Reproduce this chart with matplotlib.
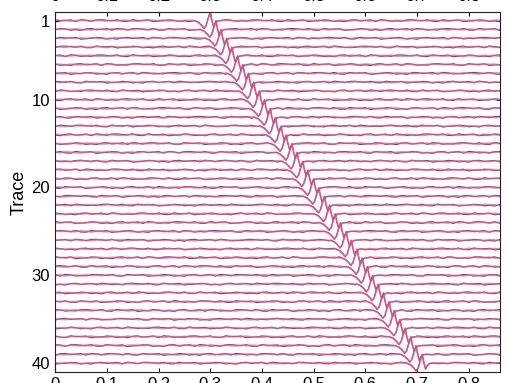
import numpy as np
import matplotlib.pyplot as plt

plt.rcParams['font.family'] = ['Liberation Sans', 'DejaVu Sans']

# trace numbers and picked arrival time (s) of the main peak on each trace
traces = list(range(1, 41))
arrival = [0.300, 0.311, 0.321, 0.332, 0.342, 0.353, 0.363, 0.374, 0.384, 0.395,
           0.405, 0.416, 0.426, 0.437, 0.447, 0.458, 0.468, 0.479, 0.489, 0.500,
           0.510, 0.521, 0.531, 0.542, 0.552, 0.563, 0.573, 0.584, 0.594, 0.604,
           0.614, 0.625, 0.635, 0.646, 0.656, 0.667, 0.677, 0.688, 0.698, 0.710]

# wavelet shape around the peak (time offset, amplitude in trace spacings)
wavelet_tau = [-0.030, -0.022, -0.016, -0.012, -0.008, -0.004, 0.000, 0.003, 0.0065, 0.010, 0.014, 0.020]
wavelet_red = [0.0, -0.25, -0.60, -0.85, -0.60, 0.20, 0.95, 0.10, -0.65, -0.30, -0.05, 0.0]
wavelet_blue = [0.0, -0.20, -0.55, -0.90, -0.55, 0.30, 1.00, 0.05, -0.70, -0.25, -0.05, 0.0]

ripple_red = [0.03, -0.04, 0.05, 0.02, -0.03, -0.06, 0.01, 0.04, 0.03, 0.00,
              0.06, -0.03, -0.02, -0.05, 0.03, 0.02, -0.04, 0.06, 0.01, 0.03,
              -0.04, -0.01, 0.05, 0.02, -0.06, 0.03, 0.00, -0.03, 0.04, -0.01]
ripple_blue = [-0.06, 0.08, 0.10, 0.04, -0.02, 0.10, -0.07, -0.09, 0.11, 0.02,
               0.03, 0.08, -0.11, -0.04, -0.02, 0.09, 0.05, -0.09, -0.03, -0.11,
               0.06, 0.10, -0.04, 0.02, 0.09, -0.09, 0.11, 0.05, -0.07, -0.02]

xticks = [0, 0.1, 0.2, 0.3, 0.4, 0.5, 0.6, 0.7, 0.8]
xticklabels = ['0', '0.1', '0.2', '0.3', '0.4', '0.5', '0.6', '0.7', '0.8']
yticks = [1, 10, 20, 30, 40]

noise_t = np.arange(0, 0.871, 0.01)
n = len(noise_t)


def trace_line(k, t0, ripple, amp, shift):
    r = np.roll(np.tile(ripple, 3)[:n], shift)
    keep = (noise_t < t0 - 0.032) | (noise_t > t0 + 0.022)
    t = np.concatenate([noise_t[keep], t0 + np.array(wavelet_tau)])
    y = np.concatenate([r[keep], np.array(amp)])
    order = np.argsort(t)
    return t[order], k - y[order]


fig = plt.figure(figsize=(5.1, 3.83), dpi=100)
ax = fig.add_axes([0.108, 0.029, 0.872, 0.940])

for k, t0 in zip(traces, arrival):
    tb, yb = trace_line(k, t0, ripple_blue, wavelet_blue, 7 * k)
    tr, yr = trace_line(k, t0, ripple_red, wavelet_red, 11 * k)
    ax.plot(tb, yb, color='#3434e8', lw=0.8)
    ax.plot(tr, yr, color='#f2606a', lw=1.3, alpha=0.75)

ax.set_xlim(0, 0.86)
ax.set_ylim(41, 0)
ax.set_xticks(xticks)
ax.set_xticklabels(xticklabels)
ax.set_yticks(yticks)
ax.set_ylabel('Trace', fontsize=13, labelpad=3)
ax.tick_params(direction='in', top=True, right=True, labelsize=12, length=3)
for s in ax.spines.values():
    s.set_color('#222222')

# tick labels of the panel above, mostly cut off by the crop
ax2 = fig.add_axes([0.108, 1.042, 0.872, 0.2])
ax2.set_xlim(0, 0.86)
ax2.set_xticks(xticks)
ax2.set_xticklabels(xticklabels)
ax2.set_yticks([])
ax2.tick_params(direction='in', labelsize=12, length=3)
for s in ax2.spines.values():
    s.set_visible(False)

fig.savefig('out.png', dpi=100)
